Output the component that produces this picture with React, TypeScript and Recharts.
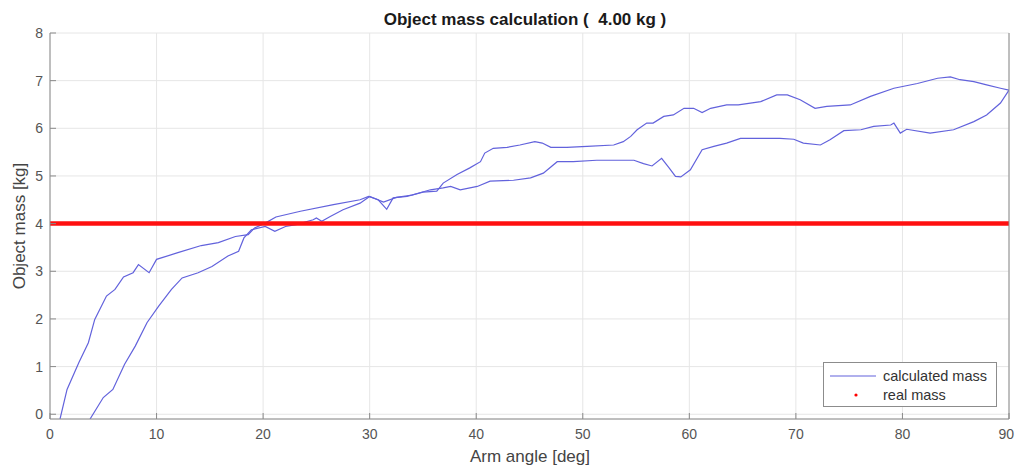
import { LineChart, Line, XAxis, YAxis, CartesianGrid, Legend } from 'recharts'

const FONT = '"Liberation Sans", Arial, Helvetica, sans-serif'

// calculated mass, branch starting at ~1 deg (upper on the left)
const branchA = [
    [0.94, -0.1], [1.6, 0.52], [2.7, 1.08], [3.6, 1.5], [4.2, 1.99], [5.3, 2.48], [6.1, 2.62],
    [6.9, 2.88], [7.8, 2.97], [8.3, 3.14], [9.3, 2.97], [10.0, 3.25], [12.0, 3.39], [14.2, 3.54],
    [15.8, 3.6], [17.4, 3.73], [18.6, 3.77], [19.2, 3.91], [20.2, 4.01], [21.2, 4.14], [23.5, 4.26],
    [26.6, 4.4], [29.1, 4.5], [29.9, 4.57], [30.8, 4.5], [31.6, 4.3], [32.2, 4.54], [33.5, 4.57],
    [35.0, 4.66], [36.3, 4.68], [36.9, 4.85], [38.2, 5.03], [39.4, 5.17], [40.4, 5.3], [40.8, 5.48],
    [41.6, 5.58], [42.9, 5.6], [44.1, 5.65], [45.5, 5.72], [46.2, 5.69], [47.0, 5.6], [48.5, 5.6],
    [50.4, 5.62], [52.9, 5.65], [53.8, 5.72], [54.5, 5.83], [55.1, 5.97], [56.0, 6.11], [56.6, 6.11],
    [57.6, 6.25], [58.5, 6.28], [59.5, 6.42], [60.4, 6.42], [61.2, 6.33], [62.0, 6.42], [63.5, 6.49],
    [64.6, 6.49], [66.7, 6.56], [68.2, 6.7], [69.2, 6.7], [70.4, 6.6], [71.8, 6.42], [72.9, 6.46],
    [75.1, 6.49], [77.0, 6.67], [79.2, 6.84], [81.4, 6.94], [83.3, 7.05], [84.5, 7.08], [85.4, 7.02],
    [86.7, 6.98], [87.9, 6.91], [89.2, 6.84], [90.0, 6.8],
]

// calculated mass, branch starting at ~3.8 deg (lower on the left)
const branchB = [
    [3.76, -0.1], [5.0, 0.35], [5.9, 0.52], [7.0, 1.05], [8.0, 1.43], [9.1, 1.92], [10.2, 2.27],
    [11.4, 2.62], [12.4, 2.86], [13.9, 2.97], [15.2, 3.1], [16.7, 3.32], [17.7, 3.42], [18.2, 3.7],
    [18.9, 3.87], [20.2, 3.94], [21.1, 3.84], [22.1, 3.94], [23.1, 3.98], [24.7, 4.08], [25.0, 4.12],
    [25.5, 4.05], [26.3, 4.15], [27.5, 4.29], [29.1, 4.43], [30.0, 4.57], [31.3, 4.45], [32.5, 4.55],
    [34.0, 4.6], [35.7, 4.71], [36.9, 4.75], [37.6, 4.78], [38.5, 4.71], [40.1, 4.78], [41.3, 4.89],
    [43.5, 4.91], [45.1, 4.96], [46.3, 5.06], [47.6, 5.3], [49.1, 5.3], [51.3, 5.33], [53.5, 5.33],
    [54.8, 5.33], [55.7, 5.26], [56.5, 5.21], [57.4, 5.37], [58.1, 5.17], [58.7, 4.99], [59.2, 4.98],
    [60.1, 5.13], [61.2, 5.55], [62.3, 5.62], [63.5, 5.69], [64.8, 5.79], [65.4, 5.79], [68.5, 5.79],
    [69.8, 5.77], [70.7, 5.69], [72.3, 5.65], [73.2, 5.76], [74.5, 5.95], [76.1, 5.97], [77.3, 6.04],
    [78.9, 6.07], [79.2, 6.11], [79.8, 5.9], [80.4, 5.98], [82.6, 5.9], [84.8, 5.97], [86.7, 6.14],
    [87.9, 6.28], [89.2, 6.53], [90.0, 6.8],
]

const realMass = [[0, 4], [90, 4]]

const xTicks = [0, 10, 20, 30, 40, 50, 60, 70, 80, 90]
const yTicks = [0, 1, 2, 3, 4, 5, 6, 7, 8]

const toRows = (pts: number[][]) => pts.map(([angle, mass]) => ({ angle, mass }))

const AXIS = '#8a8a8a'
const TICK_TEXT = '#555'
const BLUE = '#6262dc'

const BottomTick = ({ x, y, payload }: any) => {
    // the last label sits against the window edge, keep it inside
    const last = payload.value === xTicks[xTicks.length - 1]
    return (
        <g>
            <line x1={x} x2={x} y1={y} y2={y - 6} stroke={AXIS} />
            <text
                x={last ? x + 5 : x}
                y={y + 20}
                textAnchor={last ? 'end' : 'middle'}
                fill={TICK_TEXT}
                fontSize={14}
                fontFamily={FONT}
            >
                {payload.value}
            </text>
        </g>
    )
}

const TopTick = ({ x, y }: any) => <line x1={x} x2={x} y1={y} y2={y + 6} stroke={AXIS} />

const LeftTick = ({ x, y, payload }: any) => (
    <g>
        <line x1={x} x2={x + 6} y1={y} y2={y} stroke={AXIS} />
        <text x={x - 7} y={y + 5} textAnchor="end" fill={TICK_TEXT} fontSize={14} fontFamily={FONT}>
            {payload.value}
        </text>
    </g>
)

const RightTick = ({ x, y }: any) => <line x1={x} x2={x - 6} y1={y} y2={y} stroke={AXIS} />

const MassLegend = ({ payload }: any) => {
    const items = (payload || []).filter((p: any) => p.value === 'calculated mass' || p.value === 'real mass')
    return (
        <div
            style={{
                position: 'relative',
                width: 174,
                height: 45,
                boxSizing: 'border-box',
                border: '1px solid #8c8c8c',
                background: '#fff',
                fontFamily: FONT,
                fontSize: 14.5,
                color: '#333',
            }}
        >
            {items.map((item: any, i: number) => {
                const cy = i === 0 ? 13 : 32
                return (
                    <div key={item.value}>
                        <svg style={{ position: 'absolute', left: 0, top: cy - 5 }} width={58} height={10}>
                            {item.value === 'real mass' ? (
                                <circle cx={32} cy={5} r={1.6} fill="#ff0000" />
                            ) : (
                                <line x1={6} x2={52} y1={5} y2={5} stroke={BLUE} strokeWidth={1.2} />
                            )}
                        </svg>
                        <span style={{ position: 'absolute', left: 59, top: cy - 9, lineHeight: '18px', whiteSpace: 'nowrap' }}>
                            {item.value}
                        </span>
                    </div>
                )
            })}
        </div>
    )
}

export default function App() {
    return (
        <div style={{ position: 'absolute', left: 0, top: 0, width: 1015, height: 468, background: '#fff', fontFamily: FONT }}>
            <LineChart width={1015} height={468} margin={{ top: 33, right: 0, bottom: 0, left: 0 }}>
                <CartesianGrid stroke="#e6e6e6" strokeWidth={1} />
                <XAxis
                    type="number"
                    dataKey="angle"
                    domain={[0, 90]}
                    ticks={xTicks}
                    allowDataOverflow
                    height={49}
                    stroke={AXIS}
                    tickSize={0}
                    tickMargin={0}
                    tickLine={false}
                    tick={<BottomTick />}
                    interval={0}
                />
                <XAxis
                    xAxisId="top"
                    orientation="top"
                    type="number"
                    domain={[0, 90]}
                    ticks={xTicks}
                    height={0}
                    stroke={AXIS}
                    tickSize={0}
                    tickMargin={0}
                    tickLine={false}
                    tick={<TopTick />}
                    interval={0}
                />
                <YAxis
                    type="number"
                    domain={[-0.1, 8]}
                    ticks={yTicks}
                    allowDataOverflow
                    width={50}
                    stroke={AXIS}
                    tickSize={0}
                    tickMargin={0}
                    tickLine={false}
                    tick={<LeftTick />}
                    interval={0}
                />
                <YAxis
                    yAxisId="right"
                    orientation="right"
                    type="number"
                    domain={[-0.1, 8]}
                    ticks={yTicks}
                    width={6}
                    stroke={AXIS}
                    tickSize={0}
                    tickMargin={0}
                    tickLine={false}
                    tick={<RightTick />}
                    interval={0}
                />
                <Line
                    data={toRows(branchA)}
                    dataKey="mass"
                    name="calculated mass"
                    stroke={BLUE}
                    strokeWidth={1.2}
                    dot={false}
                    isAnimationActive={false}
                />
                <Line
                    data={toRows(branchB)}
                    dataKey="mass"
                    name="calculated mass (return)"
                    legendType="none"
                    stroke={BLUE}
                    strokeWidth={1.2}
                    dot={false}
                    isAnimationActive={false}
                />
                <Line
                    data={toRows(realMass)}
                    dataKey="mass"
                    name="real mass"
                    stroke="#ff1010"
                    strokeWidth={4.5}
                    dot={false}
                    isAnimationActive={false}
                />
                <Legend
                    layout="vertical"
                    align="center"
                    verticalAlign="middle"
                    content={<MassLegend />}
                    wrapperStyle={{ left: 823, top: 362, width: 174, height: 45 }}
                />
            </LineChart>
            <div
                style={{
                    position: 'absolute',
                    left: 325,
                    top: 10,
                    width: 400,
                    textAlign: 'center',
                    fontSize: 17,
                    fontWeight: 'bold',
                    lineHeight: '20px',
                    color: '#1a1a1a',
                    whiteSpace: 'pre',
                }}
            >
                {'Object mass calculation (  4.00 kg )'}
            </div>
            <div
                style={{
                    position: 'absolute',
                    left: 380,
                    top: 447,
                    width: 300,
                    textAlign: 'center',
                    fontSize: 17,
                    lineHeight: '20px',
                    color: '#444',
                }}
            >
                Arm angle [deg]
            </div>
            <div
                style={{
                    position: 'absolute',
                    left: 20 - 100,
                    top: 226 - 10,
                    width: 200,
                    textAlign: 'center',
                    fontSize: 17,
                    lineHeight: '20px',
                    color: '#444',
                    transform: 'rotate(-90deg)',
                }}
            >
                Object mass [kg]
            </div>
        </div>
    )
}
